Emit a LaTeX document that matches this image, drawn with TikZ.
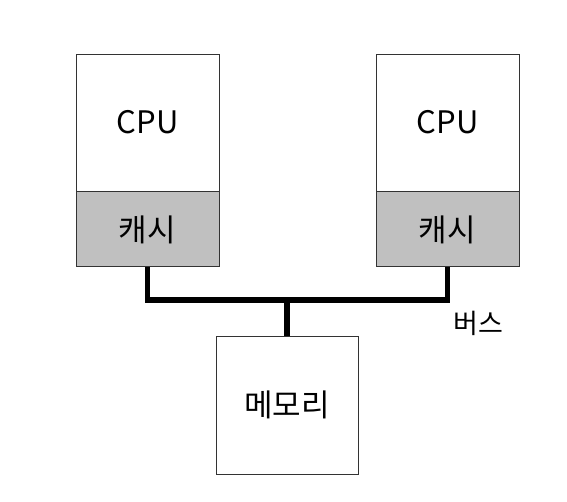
\documentclass[tikz,border=0pt]{standalone}
\usepackage{fontspec}
\setmainfont{Noto Sans CJK KR}
\usetikzlibrary{positioning}
\definecolor{cachegray}{HTML}{C0C0C0}
\definecolor{edgegray}{HTML}{333333}

\begin{document}
\begin{tikzpicture}[x=1pt,y=1pt,
      unit/.style={draw=edgegray,line width=0.9pt,minimum width=143pt,
                   inner sep=0pt,font=\fontsize{31}{33}\selectfont},
      cpubox/.style={unit,minimum height=137pt},
      cachebox/.style={unit,minimum height=75pt,fill=cachegray},
      membox/.style={unit,minimum width=142pt,minimum height=138pt},
      bus/.style={line width=5.5pt}]
    \useasboundingbox (0,0) rectangle (567,-501);
    % processors with their caches
    \node[cpubox] (cpu1) at (147.5,-122.5) {CPU};
    \node[cachebox,below=0pt of cpu1] (cache1) {캐시};
    \node[cpubox] (cpu2) at (447.5,-122.5) {CPU};
    \node[cachebox,below=0pt of cpu2] (cache2) {캐시};
    % memory
    \node[membox] (mem) at (287,-405) {메모리};
    % bus
    \coordinate (tap) at (287,-300);
    \draw[bus] (cache1.south) |- (tap) -| (cache2.south);
    \draw[bus] (tap) -- (mem.north);
    \node[font=\fontsize{27}{29}\selectfont] (buslabel) at (478,-323) {버스};
\end{tikzpicture}
\end{document}
